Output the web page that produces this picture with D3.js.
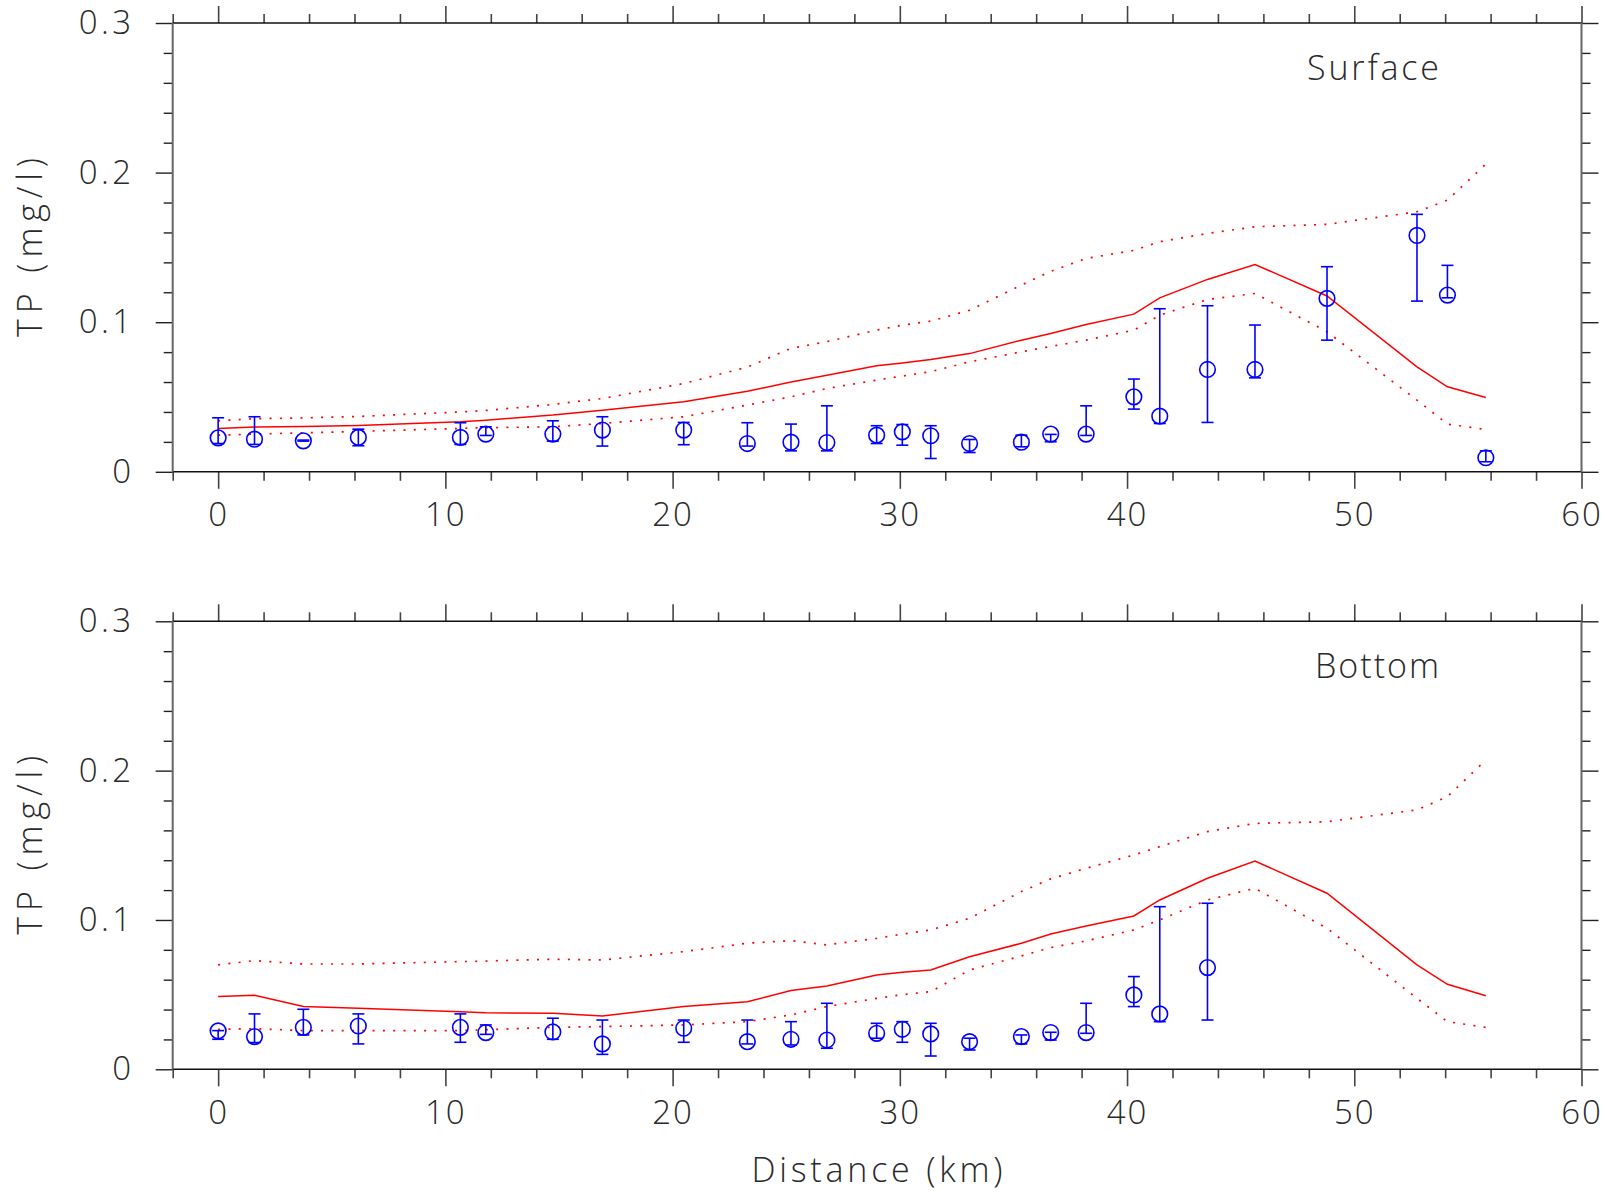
<!DOCTYPE html>
<html><head><meta charset="utf-8">
<script src="https://cdn.jsdelivr.net/npm/d3@7"></script>
<style>
html,body{margin:0;padding:0;background:#fff;}
text{font-family:"Open Sans","DejaVu Sans",sans-serif;font-weight:300;fill:#2a2a2a;}
</style></head>
<body>
<svg id="chart" width="1612" height="1193"></svg>
<script>
// ---------- data ----------
const stations = [0, 1.6, 3.75, 6.17, 10.66, 11.78, 14.73, 16.91, 20.49, 23.29, 25.21, 26.79, 28.98, 30.11, 31.36, 33.07, 35.35, 36.64, 38.2, 40.3, 41.44, 43.54, 45.63, 48.8, 52.76, 54.1, 55.79];

const surfaceObs  = [0.0227, 0.0218, 0.0207, 0.0230, 0.0230, 0.0252, 0.0252, 0.0279, 0.0279, 0.0189, 0.0198, 0.0196, 0.0245, 0.0267, 0.0241, 0.0189, 0.0198, 0.0252, 0.0252, 0.0501, 0.0372, 0.0684, 0.0684, 0.1159, 0.1580, 0.1181, 0.0094];
const surfaceLow  = [0.0189, 0.0183, 0.0205, 0.0174, 0.0183, 0.0243, 0.0205, 0.0172, 0.0181, 0.0172, 0.0140, 0.0140, 0.0189, 0.0178, 0.0089, 0.0129, 0.0167, 0.0201, 0.0243, 0.0419, 0.0323, 0.0330, 0.0628, 0.0880, 0.1141, 0.1163, 0.0067];
const surfaceHigh = [0.0361, 0.0368, 0.0212, 0.0285, 0.0328, 0.0301, 0.0341, 0.0368, 0.0330, 0.0328, 0.0319, 0.0441, 0.0308, 0.0316, 0.0308, 0.0216, 0.0245, 0.0250, 0.0441, 0.0620, 0.1090, 0.1110, 0.0981, 0.1371, 0.1721, 0.1380, 0.0140];
const surfaceModel = [0.0290, 0.0300, 0.0303, 0.0310, 0.0334, 0.0345, 0.0379, 0.0412, 0.0468, 0.0538, 0.0600, 0.0646, 0.0709, 0.0728, 0.0751, 0.0790, 0.0880, 0.0925, 0.0985, 0.1054, 0.1163, 0.1286, 0.1386, 0.1175, 0.0702, 0.0568, 0.0497];
const surfaceUpper = [0.0341, 0.0355, 0.0360, 0.0370, 0.0400, 0.0410, 0.0450, 0.0490, 0.0590, 0.0700, 0.0825, 0.0870, 0.0947, 0.0980, 0.1007, 0.1080, 0.1248, 0.1340, 0.1426, 0.1480, 0.1538, 0.1593, 0.1638, 0.1654, 0.1738, 0.1816, 0.2057];
const surfaceLower = [0.0245, 0.0252, 0.0260, 0.0270, 0.0290, 0.0295, 0.0301, 0.0323, 0.0368, 0.0446, 0.0501, 0.0557, 0.0613, 0.0640, 0.0669, 0.0735, 0.0802, 0.0838, 0.0880, 0.0947, 0.1047, 0.1152, 0.1192, 0.0936, 0.0479, 0.0319, 0.0283];

const bottomObs  = [0.0257, 0.0219, 0.0281, 0.0290, 0.0281, 0.0246, 0.0250, 0.0170, 0.0275, 0.0185, 0.0201, 0.0196, 0.0241, 0.0268, 0.0237, 0.0185, 0.0219, 0.0246, 0.0246, 0.0498, 0.0371, 0.0681];
const bottomLow  = [0.0201, 0.0179, 0.0230, 0.0170, 0.0181, 0.0234, 0.0201, 0.0100, 0.0181, 0.0170, 0.0163, 0.0141, 0.0208, 0.0181, 0.0089, 0.0129, 0.0170, 0.0196, 0.0241, 0.0420, 0.0319, 0.0330];
const bottomHigh = [0.0259, 0.0371, 0.0402, 0.0371, 0.0371, 0.0297, 0.0342, 0.0330, 0.0330, 0.0330, 0.0319, 0.0442, 0.0308, 0.0319, 0.0308, 0.0208, 0.0230, 0.0248, 0.0442, 0.0621, 0.1089, 0.1112];
const bottomModel = [0.0487, 0.0496, 0.0420, 0.0408, 0.0386, 0.0379, 0.0375, 0.0357, 0.0420, 0.0453, 0.0527, 0.0558, 0.0632, 0.0650, 0.0665, 0.0754, 0.0844, 0.0906, 0.0960, 0.1027, 0.1134, 0.1279, 0.1395, 0.1179, 0.0699, 0.0569, 0.0493];
const bottomUpper = [0.0699, 0.0728, 0.0705, 0.0705, 0.0721, 0.0725, 0.0737, 0.0732, 0.0788, 0.0844, 0.0862, 0.0833, 0.0877, 0.0905, 0.0933, 0.1011, 0.1190, 0.1275, 0.1346, 0.1435, 0.1491, 0.1592, 0.1647, 0.1658, 0.1737, 0.1826, 0.2071];
const bottomLower = [0.0268, 0.0272, 0.0259, 0.0259, 0.0259, 0.0265, 0.0281, 0.0286, 0.0297, 0.0319, 0.0364, 0.0420, 0.0475, 0.0500, 0.0520, 0.0665, 0.0759, 0.0815, 0.0860, 0.0933, 0.1000, 0.1134, 0.1212, 0.0944, 0.0475, 0.0319, 0.0281];

const panelTitles = ["Surface", "Bottom"];
const xMajorTicks = [0, 10, 20, 30, 40, 50, 60];
const yMajorTicks = [0, 0.1, 0.2, 0.3];
const yTickLabels = ["0", "0.1", "0.2", "0.3"];
const yTitle = "TP (mg/l)";
const xTitle = "Distance (km)";

// ---------- layout ----------
const svg = d3.select("#chart");
const x = d3.scaleLinear().domain([-2, 60]).range([172.7, 1581.5]);
const xMinorTicks = d3.range(-2, 61, 2).filter(v => v % 10 !== 0);
const yMinorTicks = d3.range(0, 16).filter(i => i % 5 !== 0).map(i => i * 0.02);

const panels = [
  {top: 23, bottom: 471.8, title: panelTitles[0], obs: surfaceObs, low: surfaceLow, high: surfaceHigh,
   model: surfaceModel, upper: surfaceUpper, lower: surfaceLower},
  {top: 621.3, bottom: 1069.3, title: panelTitles[1], obs: bottomObs, low: bottomLow, high: bottomHigh,
   model: bottomModel, upper: bottomUpper, lower: bottomLower}
];

const red = "#ff0000", blue = "#0000ff";

function styleAxis(vertical) {
  return g => {
    g.select(".domain").remove();
    g.selectAll(".tick line").attr("stroke", vertical ? "#444" : "#222").attr("stroke-width", vertical ? 1.6 : 1.4);
    g.selectAll(".tick text").attr("fill", "#2a2a2a").style("font-size", "33px")
      .attr("font-family", null);
  };
}

panels.forEach(p => {
  const y = d3.scaleLinear().domain([0, 0.3]).range([p.bottom, p.top]);
  const g = svg.append("g");

  const x0 = x(-2), x1 = x(60);
  g.append("g").attr("transform", `translate(${x0},0)`)
    .call(d3.axisLeft(y).tickValues(yMinorTicks).tickSize(9).tickSizeOuter(0).tickFormat("")).call(styleAxis(false));
  g.append("g").attr("transform", `translate(${x0},0)`)
    .call(d3.axisLeft(y).tickValues(yMajorTicks).tickSize(17).tickSizeOuter(0).tickPadding(21)
      .tickFormat((d, i) => yTickLabels[i])).call(styleAxis(false))
    .selectAll(".tick text").style("letter-spacing", "3.5px");
  g.append("g").attr("transform", `translate(${x1},0)`)
    .call(d3.axisRight(y).tickValues(yMinorTicks).tickSize(9).tickSizeOuter(0).tickFormat("")).call(styleAxis(false));
  g.append("g").attr("transform", `translate(${x1},0)`)
    .call(d3.axisRight(y).tickValues(yMajorTicks).tickSize(17).tickSizeOuter(0).tickFormat("")).call(styleAxis(false));
  g.append("g").attr("transform", `translate(0,${p.top})`)
    .call(d3.axisTop(x).tickValues(xMinorTicks).tickSize(9).tickSizeOuter(0).tickFormat("")).call(styleAxis(true));
  g.append("g").attr("transform", `translate(0,${p.top})`)
    .call(d3.axisTop(x).tickValues(xMajorTicks).tickSize(17).tickSizeOuter(0).tickFormat("")).call(styleAxis(true));
  g.append("g").attr("transform", `translate(0,${p.bottom})`)
    .call(d3.axisBottom(x).tickValues(xMinorTicks).tickSize(9).tickSizeOuter(0).tickFormat("")).call(styleAxis(true));
  g.append("g").attr("transform", `translate(0,${p.bottom})`)
    .call(d3.axisBottom(x).tickValues(xMajorTicks).tickSize(17).tickSizeOuter(0).tickPadding(14)
      .tickFormat(d3.format("d"))).call(styleAxis(true))
    .selectAll(".tick text").style("letter-spacing", "2px");

  // frame: horizontal lines dark, vertical lines grey
  g.append("line").attr("x1", x0).attr("x2", x1).attr("y1", p.top).attr("y2", p.top)
    .attr("stroke", "#111").attr("stroke-width", 1.4);
  g.append("line").attr("x1", x0).attr("x2", x1).attr("y1", p.bottom).attr("y2", p.bottom)
    .attr("stroke", "#111").attr("stroke-width", 1.4);
  g.append("line").attr("x1", x0).attr("x2", x0).attr("y1", p.top).attr("y2", p.bottom)
    .attr("stroke", "#666").attr("stroke-width", 2);
  g.append("line").attr("x1", x1).attr("x2", x1).attr("y1", p.top).attr("y2", p.bottom)
    .attr("stroke", "#666").attr("stroke-width", 2);

  // y title
  g.append("text")
    .attr("transform", `translate(42,${(p.top + p.bottom) / 2}) rotate(-90)`)
    .attr("text-anchor", "middle").style("font-size", "34px")
    .attr("textLength", 179).attr("lengthAdjust", "spacing")
    .text(yTitle);

  // panel title
  g.append("text").attr("x", 1439).attr("y", p.top + 57).attr("text-anchor", "end")
    .style("font-size", "34px").attr("textLength", p.title === "Surface" ? 132 : 124)
    .attr("lengthAdjust", "spacing").text(p.title);

  // model lines
  const line = d3.line().x((d, i) => x(stations[i])).y(d => y(d));
  g.append("path").datum(p.upper).attr("d", line).attr("fill", "none")
    .attr("stroke", red).attr("stroke-width", 1.7).attr("stroke-dasharray", "2,8.3");
  g.append("path").datum(p.lower).attr("d", line).attr("fill", "none")
    .attr("stroke", red).attr("stroke-width", 1.7).attr("stroke-dasharray", "2,8.3");
  g.append("path").datum(p.model).attr("d", line).attr("fill", "none")
    .attr("stroke", red).attr("stroke-width", 1.5);

  // observations
  const obs = p.obs.map((v, i) => ({x: stations[i], v, lo: p.low[i], hi: p.high[i]}));
  const og = g.append("g").attr("stroke", blue).attr("stroke-width", 1.6).attr("fill", "none");
  og.selectAll("line.bar").data(obs).join("line").attr("class", "bar")
    .attr("x1", d => x(d.x)).attr("x2", d => x(d.x)).attr("y1", d => y(d.lo)).attr("y2", d => y(d.hi));
  og.selectAll("line.capHi").data(obs).join("line").attr("class", "capHi")
    .attr("x1", d => x(d.x) - 6).attr("x2", d => x(d.x) + 6).attr("y1", d => y(d.hi)).attr("y2", d => y(d.hi));
  og.selectAll("line.capLo").data(obs).join("line").attr("class", "capLo")
    .attr("x1", d => x(d.x) - 6).attr("x2", d => x(d.x) + 6).attr("y1", d => y(d.lo)).attr("y2", d => y(d.lo));
  og.selectAll("circle").data(obs).join("circle")
    .attr("cx", d => x(d.x)).attr("cy", d => y(d.v)).attr("r", 7.8);
});

// x title
svg.append("text").attr("x", 877).attr("y", 1181.5).attr("text-anchor", "middle")
  .style("font-size", "34px").attr("textLength", 251).attr("lengthAdjust", "spacing").text(xTitle);
</script>
</body></html>
